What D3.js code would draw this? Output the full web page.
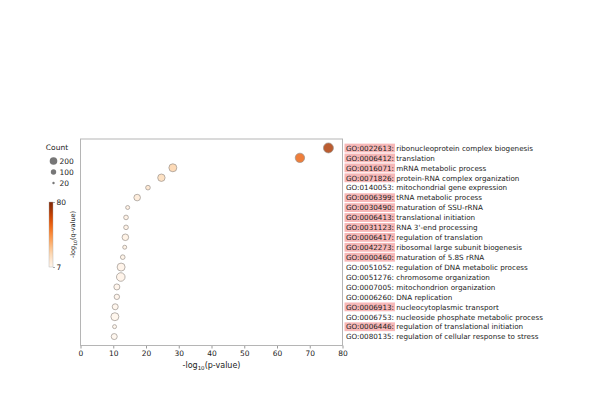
<!DOCTYPE html>
<html>
<head>
<meta charset="utf-8">
<script src="https://cdn.jsdelivr.net/npm/d3@7"></script>
<style>
  body { margin: 0; background: #fff; }
  text { font-family: "DejaVu Sans", sans-serif; fill: #222; }
</style>
</head>
<body>
<div id="chart"></div>
<script>
// GO terms, top to bottom
const goIds = ["GO:0022613", "GO:0006412", "GO:0016071", "GO:0071826", "GO:0140053",
    "GO:0006399", "GO:0030490", "GO:0006413", "GO:0031123", "GO:0006417",
    "GO:0042273", "GO:0000460", "GO:0051052", "GO:0051276", "GO:0007005",
    "GO:0006260", "GO:0006913", "GO:0006753", "GO:0006446", "GO:0080135"];
const goNames = ["ribonucleoprotein complex biogenesis", "translation", "mRNA metabolic process",
    "protein-RNA complex organization", "mitochondrial gene expression", "tRNA metabolic process",
    "maturation of SSU-rRNA", "translational initiation", "RNA 3'-end processing",
    "regulation of translation", "ribosomal large subunit biogenesis", "maturation of 5.8S rRNA",
    "regulation of DNA metabolic process", "chromosome organization", "mitochondrion organization",
    "DNA replication", "nucleocytoplasmic transport", "nucleoside phosphate metabolic process",
    "regulation of translational initiation", "regulation of cellular response to stress"];
const highlighted = [1, 1, 1, 1, 0, 1, 1, 1, 1, 1, 1, 1, 0, 0, 0, 0, 1, 0, 1, 0];
// -log10(p-value)
const pValues = [75.7, 67.0, 28.2, 24.7, 20.6, 17.3, 14.4, 13.9, 13.9, 13.7,
    13.5, 12.9, 12.4, 12.3, 11.1, 11.1, 10.6, 10.5, 10.4, 10.3];
// -log10(q-value)
const qValues = [70, 55, 24, 21, 17, 14, 11, 10.5, 10.5, 10.3,
    10, 9.5, 9, 9, 8, 8, 7.5, 7.3, 7.2, 7];
const counts = [345, 305, 220, 190, 75, 150, 55, 75, 75, 150,
    55, 75, 220, 255, 125, 100, 125, 220, 55, 125];

const xTicks = [0, 10, 20, 30, 40, 50, 60, 70, 80];
const sizeLegend = [200, 100, 20];
const colorDomain = [7, 80];

const width = 600, height = 416;
const plot = { left: 80.5, right: 342.5, top: 139, bottom: 345.5 };

const svg = d3.select("#chart").append("svg")
    .attr("width", width)
    .attr("height", height)
    .style("background", "#fff");

const xScale = d3.scaleLinear()
    .domain([0, 80])
    .range([plot.left, plot.right]);

const yScale = d3.scalePoint()
    .domain(goIds)
    .range([plot.top, plot.bottom])
    .padding(0.9);

const rScale = d3.scaleSqrt()
    .domain([0, 200])
    .range([0, 3.8]);

const colorScale = d3.scaleSequential(d3.interpolateOranges)
    .domain(colorDomain);

// x axis
const xAxis = svg.append("g")
    .attr("transform", `translate(0,${plot.bottom})`)
    .call(d3.axisBottom(xScale).tickValues(xTicks).tickSize(3).tickPadding(2));
xAxis.select(".domain").remove();
xAxis.selectAll("line").attr("stroke", "#555").attr("stroke-width", 0.6);
xAxis.selectAll("text").style("font-size", "7.5px").attr("fill", "#333");

// frame
svg.append("rect")
    .attr("x", plot.left)
    .attr("y", plot.top)
    .attr("width", plot.right - plot.left)
    .attr("height", plot.bottom - plot.top)
    .attr("fill", "none")
    .attr("stroke", "#b5b5b5")
    .attr("stroke-width", 1);

// x label
const xl = svg.append("text")
    .attr("x", (plot.left + plot.right) / 2)
    .attr("y", 368)
    .style("text-anchor", "middle")
    .style("font-size", "8px");
xl.append("tspan").text("-log");
xl.append("tspan").text("10").style("font-size", "5.5px").attr("dy", 2);
xl.append("tspan").text("(p-value)").attr("dy", -2);

// bubbles
const rows = goIds.map((id, i) => ({ id, p: pValues[i], q: qValues[i], c: counts[i] }));
svg.selectAll("circle.dot")
    .data(rows)
    .enter()
    .append("circle")
    .attr("class", "dot")
    .attr("cx", d => xScale(d.p))
    .attr("cy", d => yScale(d.id))
    .attr("r", d => rScale(d.c))
    .attr("fill", d => colorScale(d.q))
    .attr("fill-opacity", 0.82)
    .attr("stroke", "#9a928c")
    .attr("stroke-width", 0.7);

// term labels on the right
goIds.forEach((id, i) => {
    const g = svg.append("g")
        .attr("transform", `translate(346,${yScale(id)})`);
    const idText = g.append("text")
        .attr("y", 2.8)
        .style("font-size", "7.2px")
        .attr("fill", highlighted[i] ? "#e0706e" : "#222")
        .text(id + ":");
    const w = idText.node().getComputedTextLength();
    if (highlighted[i]) {
        g.insert("rect", "text")
            .attr("x", -1.5)
            .attr("y", -4.3)
            .attr("width", w + 2.5)
            .attr("height", 8.8)
            .attr("fill", "#f7b8b8");
    }
    g.append("text")
        .attr("x", w + 2.3)
        .attr("y", 2.8)
        .style("font-size", "7.2px")
        .text(goNames[i]);
});

// size legend
svg.append("text")
    .attr("x", 57)
    .attr("y", 150)
    .style("text-anchor", "middle")
    .style("font-size", "7.5px")
    .text("Count");

const legend = svg.selectAll(".legend")
    .data(sizeLegend)
    .enter().append("g")
    .attr("class", "legend")
    .attr("transform", (d, i) => `translate(53.5,${161 + i * 11})`);

legend.append("circle")
    .attr("r", d => rScale(d))
    .attr("fill", "#777");

legend.append("text")
    .attr("x", 6)
    .attr("dy", "0.35em")
    .style("font-size", "7.5px")
    .text(d => d);

// colour bar
const cb = { x: 49, y: 202, w: 4, h: 65 };
const grad = svg.append("defs").append("linearGradient")
    .attr("id", "cbar")
    .attr("x1", 0).attr("y1", 1).attr("x2", 0).attr("y2", 0);
d3.range(0, 1.01, 0.1).forEach(t => {
    grad.append("stop")
        .attr("offset", t)
        .attr("stop-color", d3.interpolateOranges(t));
});
svg.append("rect")
    .attr("x", cb.x).attr("y", cb.y)
    .attr("width", cb.w).attr("height", cb.h)
    .attr("fill", "url(#cbar)")
    .attr("stroke", "#aaa")
    .attr("stroke-width", 0.4);

const cbScale = d3.scaleLinear().domain(colorDomain).range([cb.y + cb.h, cb.y]);
const cbAxis = svg.append("g")
    .attr("transform", `translate(${cb.x + cb.w},0)`)
    .call(d3.axisRight(cbScale).tickValues(colorDomain).tickSize(2).tickPadding(1.5));
cbAxis.select(".domain").remove();
cbAxis.selectAll("line").attr("stroke", "#555").attr("stroke-width", 0.5);
cbAxis.selectAll("text").style("font-size", "7.5px").attr("fill", "#333");

const cl = svg.append("text")
    .attr("transform", `translate(75,${cb.y + cb.h / 2}) rotate(-90)`)
    .style("text-anchor", "middle")
    .style("font-size", "6.5px");
cl.append("tspan").text("-log");
cl.append("tspan").text("10").style("font-size", "4.5px").attr("dy", 1.5);
cl.append("tspan").text("(q-value)").attr("dy", -1.5);
</script>
</body>
</html>
